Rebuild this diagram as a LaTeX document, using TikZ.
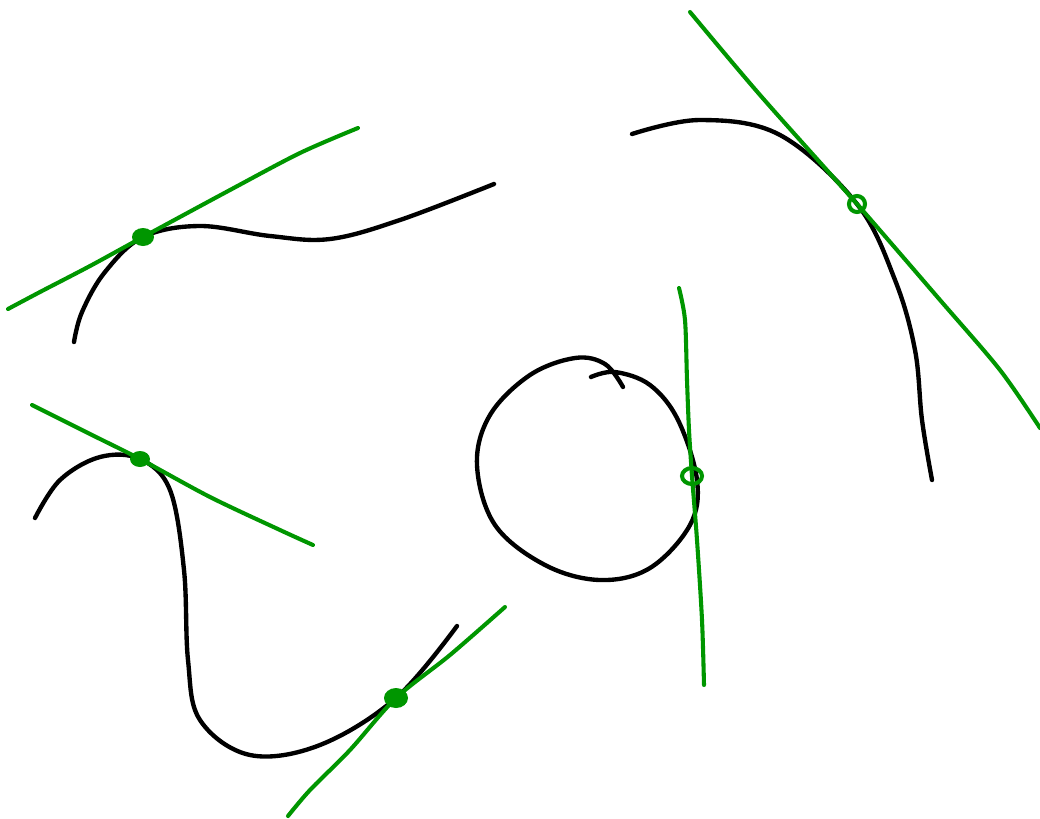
\documentclass[tikz,border=0pt]{standalone}
\usepackage{xcolor}
\usepackage{tikz}
\definecolor{penGreen}{RGB}{0,150,0}

\begin{document}
\begin{tikzpicture}[x=0.025cm, y=-0.025cm,
    curve/.style={black, line width=3.1pt, line cap=round, line join=round},
    tangent/.style={penGreen, line width=2.9pt, line cap=round, line join=round},
    blob/.style={penGreen, fill=penGreen},
    ring/.style={penGreen, line width=2.9pt}]
    \useasboundingbox (0,0) rectangle (1040,818);

    % touching points
    \coordinate (pA) at (143,237);
    \coordinate (pB) at (857,204);
    \coordinate (pC) at (692,476);
    \coordinate (pD) at (140,459);
    \coordinate (pE) at (396,698);

    % top left
    \draw[curve] plot[smooth, tension=0.6] coordinates {(74,342) (82,312) (105,272) (pA) (200,226) (270,236) (330,239) (400,220) (494,184)};
    \draw[tangent] plot[smooth] coordinates {(8,309) (40,292) (90,266) (pA) (230,190) (300,153) (358,128)};
    \fill[blob] (pA) ellipse (11 and 9);

    % top right
    \draw[curve] plot[smooth, tension=0.6] coordinates {(632,134) (700,120) (780,135) (pB) (895,280) (915,350) (922,420) (932,480)};
    \draw[tangent] plot[smooth] coordinates {(690,12) (760,95) (pB) (940,300) (1000,370) (1040,428)};
    \draw[ring] (pB) circle (8);

    % circle
    \draw[curve] plot[smooth, tension=0.6] coordinates {(591,377) (615,372) (650,385) (678,420) (697,480) (690,525) (650,568) (600,580) (545,565) (495,525) (477,465) (490,415) (530,375) (575,358) (605,364) (623,387)};
    \draw[tangent] plot[smooth] coordinates {(679,288) (685,320) (687,380) (689,430) (pC) (697,540) (702,620) (704,685)};
    \draw[ring] (pC) ellipse (10 and 8);

    % bottom left
    \draw[curve] plot[smooth, tension=0.6] coordinates {(35,518) (60,480) (100,457) (pD) (170,490) (184,570) (188,660) (200,720) (250,755) (320,745) (pE) (457,626)};
    \draw[tangent] plot[smooth] coordinates {(32,405) (90,434) (pD) (210,497) (280,530) (313,545)};
    \fill[blob] (pD) ellipse (10 and 8);
    \draw[tangent] plot[smooth] coordinates {(505,607) (450,655) (pE) (350,750) (310,790) (288,816)};
    \fill[blob] (pE) ellipse (12 and 10);
\end{tikzpicture}
\end{document}
